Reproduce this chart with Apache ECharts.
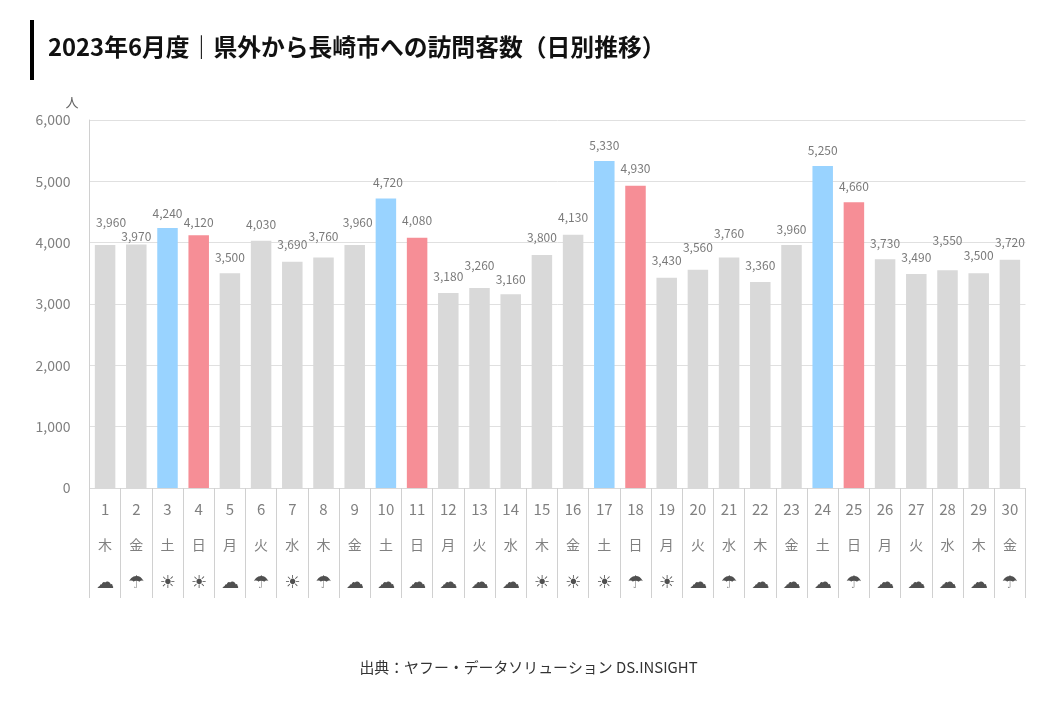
<!DOCTYPE html>
<html>
<head>
<meta charset="utf-8">
<style>
    html, body { margin: 0; padding: 0; background: #fff; }
    #main { width: 1040px; height: 720px; }
</style>
<script src="https://cdn.jsdelivr.net/npm/echarts@6/dist/echarts.min.js"></script>
</head>
<body>
<div id="main"></div>
<script>
const days = ['1','2','3','4','5','6','7','8','9','10','11','12','13','14','15','16','17','18','19','20','21','22','23','24','25','26','27','28','29','30'];
const weekdays = ['木','金','土','日','月','火','水','木','金','土','日','月','火','水','木','金','土','日','月','火','水','木','金','土','日','月','火','水','木','金'];
const weather = ['☁','☂','☀','☀','☁','☂','☀','☂','☁','☁','☁','☁','☁','☁','☀','☀','☀','☂','☀','☁','☂','☁','☁','☁','☂','☁','☁','☁','☁','☂'];
const visitors = [3960,3970,4240,4120,3500,4030,3690,3760,3960,4720,4080,3180,3260,3160,3800,4130,5330,4930,3430,3560,3760,3360,3960,5250,4660,3730,3490,3550,3500,3720];

const FONT = '"Noto Sans CJK JP", sans-serif';

// 元のグラフは数値ラベルを手で動かしているので、棒からの距離を日ごとに持つ
const labelGap = [17,2,9,7,10,10,11,15,17,10,11,11,17,9,11,11,10,11,11,16,18,10,10,10,10,10,11,24,12,11];
// 横にずれているラベルだけ（日 -> px）
const labelShift = { 1: 6, 9: 3, 10: 2 };

function barColor(i) {
    if (weekdays[i] == '土') return '#99d3ff';
    if (weekdays[i] == '日') return '#f68e96';
    return '#d9d9d9';
}

const barData = visitors.map((v, i) => ({
    value: v,
    itemStyle: { color: barColor(i) },
    label: { distance: labelGap[i] }
}));

var myChart = echarts.init(document.getElementById('main'));
var option = {
    animation: false,
    backgroundColor: '#fff',
    textStyle: { fontFamily: FONT },
    title: [{
        text: '2023年6月度｜県外から長崎市への訪問客数（日別推移）',
        left: 43,
        top: 30,
        textStyle: { fontFamily: FONT, fontSize: 23.8, fontWeight: 'bold', color: '#111' }
    }, {
        text: '出典：ヤフー・データソリューション DS.INSIGHT',
        left: 523.5,
        top: 655,
        textAlign: 'center',
        textStyle: { fontFamily: FONT, fontSize: 14.9, fontWeight: 'normal', color: '#333' }
    }],
    graphic: [{
        type: 'rect',
        shape: { x: 30, y: 20, width: 4, height: 60 },
        style: { fill: '#000' }
    }],
    grid: { left: 89.5, right: 14.5, top: 120, bottom: 232 },
    xAxis: {
        type: 'category',
        data: days,
        axisLine: { lineStyle: { color: '#d9d9d9' } },
        axisTick: { show: true, length: 110, lineStyle: { color: '#d0d0d0' } },
        axisLabel: {
            interval: 0,
            margin: 3,
            formatter: function (val, i) {
                return '{d|' + val + '}\n{w|' + weekdays[i] + '}\n{i|' + weather[i] + '}';
            },
            rich: {
                d: { fontFamily: FONT, fontSize: 15, color: '#808080', lineHeight: 36 },
                w: { fontFamily: FONT, fontSize: 14, color: '#808080', lineHeight: 36 },
                i: { fontFamily: '"DejaVu Sans"', fontSize: 18, color: '#505050', lineHeight: 40 }
            }
        }
    },
    yAxis: {
        type: 'value',
        min: 0,
        max: 6000,
        interval: 1000,
        name: '人',
        nameGap: 11,
        nameLocation: 'end',
        nameTextStyle: { fontFamily: FONT, fontSize: 13, color: '#666', align: 'right', padding: [0, 11, 0, 0] },
        axisLine: { show: true, lineStyle: { color: '#d0d0d0' } },
        axisTick: { show: false },
        axisLabel: {
            margin: 19,
            fontFamily: FONT,
            fontSize: 14,
            color: '#808080',
            formatter: function (v) { return v.toLocaleString('en-US'); }
        },
        splitLine: { lineStyle: { color: '#e0e0e0' } }
    },
    series: [{
        type: 'bar',
        data: barData,
        barWidth: 20.5,
        label: {
            show: true,
            position: 'top',
            fontFamily: FONT,
            fontSize: 12,
            color: '#7a7a7a',
            formatter: function (p) { return p.value.toLocaleString('en-US'); }
        },
        labelLayout: function (params) {
            return { dx: labelShift[params.dataIndex + 1] || 0, hideOverlap: false };
        }
    }]
};
myChart.setOption(option);
</script>
</body>
</html>
